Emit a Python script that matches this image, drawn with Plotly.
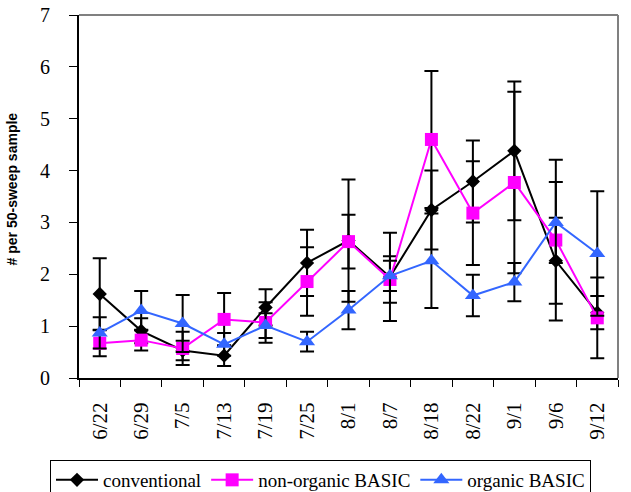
import plotly.graph_objects as go

# Sampling dates
dates = ["6/22", "6/29", "7/5", "7/13", "7/19", "7/25", "8/1",
         "8/7", "8/18", "8/22", "9/1", "9/6", "9/12"]

# Mean counts per 50-sweep sample and their error (+/-)
conventional = [1.62, 0.91, 0.53, 0.43, 1.36, 2.22, 2.65, 1.95, 3.24, 3.79, 4.38, 2.26, 1.26]
conventional_err = [0.69, 0.24, 0.19, 0.20, 0.35, 0.64, 1.18, 0.85, 0.76, 0.79, 1.34, 0.83, 0.32]

non_organic = [0.67, 0.73, 0.57, 1.13, 1.07, 1.86, 2.63, 1.90, 4.60, 3.18, 3.77, 2.66, 1.16]
non_organic_err = [0.25, 0.20, 0.32, 0.51, 0.39, 0.66, 0.52, 0.45, 1.32, 1.00, 1.75, 1.55, 0.78]

organic = [0.87, 1.30, 1.05, 0.65, 1.01, 0.70, 1.31, 1.97, 2.26, 1.59, 1.85, 3.00, 2.40]
organic_err = [0.30, 0.38, 0.55, 0.22, 0.24, 0.19, 0.37, 0.29, 0.91, 0.40, 0.37, 0.78, 1.20]

y_ticks = [0, 1, 2, 3, 4, 5, 6, 7]

SERIF = "'Times New Roman', 'Liberation Serif', serif"

series = [
    ("conventional", conventional, conventional_err, "#000000", "diamond", 11),
    ("non-organic BASIC", non_organic, non_organic_err, "#FF00FF", "square", 13),
    ("organic BASIC", organic, organic_err, "#3366FF", "triangle-up", 14),
]

fig = go.Figure()
for name, vals, errs, color, symbol, size in series:
    fig.add_trace(go.Scatter(
        x=dates, y=vals, name=name, mode="lines+markers",
        line=dict(color=color, width=2),
        marker=dict(symbol=symbol, size=size, color=color),
        error_y=dict(type="data", array=errs, visible=True,
                     color="#000000", thickness=2, width=7),
    ))

fig.update_layout(
    width=631, height=492,
    margin=dict(l=79, r=13, t=15, b=114, autoexpand=False),
    plot_bgcolor="white", paper_bgcolor="white",
    font=dict(family=SERIF, color="#000000"),
    showlegend=True,
    legend=dict(
        orientation="h", xref="container", yref="container",
        x=50 / 631, y=(492 - 460) / 492, xanchor="left", yanchor="top",
        bordercolor="#000000", borderwidth=1, bgcolor="white",
        font=dict(family=SERIF, size=19, color="#000000"),
        tracegroupgap=0, itemwidth=42,
    ),
    # plot-area frame on top and right
    shapes=[
        dict(type="line", xref="paper", yref="paper", x0=0, x1=1, y0=1, y1=1,
             line=dict(color="#808080", width=2), layer="below"),
        dict(type="line", xref="paper", yref="paper", x0=1, x1=1, y0=0, y1=1,
             line=dict(color="#808080", width=2), layer="below"),
    ],
    annotations=[
        dict(text="# per 50-sweep sample", xref="paper", yref="paper",
             x=-0.124, y=0.52, xanchor="center", yanchor="middle",
             textangle=-90, showarrow=False,
             font=dict(family="Arial, 'Liberation Sans', sans-serif", size=14,
                       color="#000000", weight="bold")),
    ],
)

fig.update_xaxes(
    type="category", tickson="boundaries", ticks="outside", ticklen=7,
    tickwidth=1, tickcolor="#000000", showline=True, linecolor="#000000",
    linewidth=2, showgrid=False, tickangle=-90,
    tickfont=dict(family=SERIF, size=21, color="#000000"),
    ticklabelstandoff=14, range=[-0.5, 12.5], automargin=False,
)
fig.update_yaxes(
    range=[0, 7], tickvals=y_ticks, ticks="outside", ticklen=8,
    tickwidth=1, tickcolor="#000000", showline=True, linecolor="#000000",
    linewidth=2, showgrid=False, zeroline=False,
    tickfont=dict(family=SERIF, size=20, color="#000000"),
    ticklabelstandoff=15, automargin=False,
)

fig.write_html("out.html")
